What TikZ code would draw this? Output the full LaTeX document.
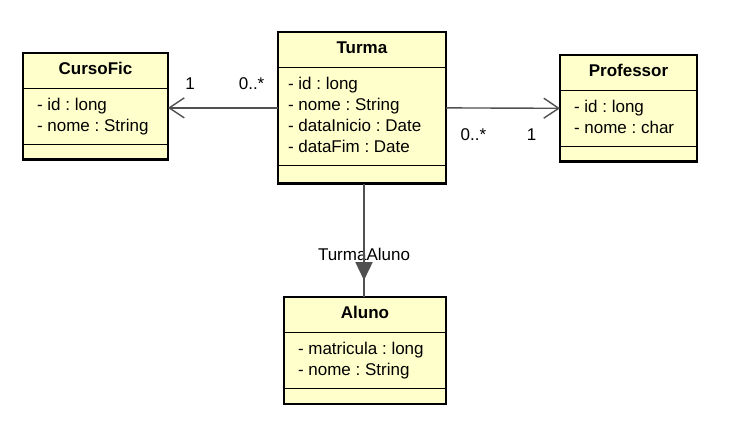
\documentclass[tikz,border=0pt]{standalone}
\usepackage{fontspec}
\setmainfont{Liberation Sans}
\usetikzlibrary{arrows.meta,positioning,shapes.multipart}
\definecolor{classfill}{RGB}{255,255,204}
\definecolor{linkgray}{RGB}{80,80,80}
\newcommand{\classfont}{\fontsize{8.5}{10.5}\selectfont\frenchspacing}

\begin{document}
\begin{tikzpicture}
[x=0.5pt, y=-0.5pt, font=\classfont,
umlclass/.style={rectangle split, rectangle split parts=3,
  rectangle split part align={center,left,left},
  draw=black, line width=0.6pt, fill=classfill, align=left,
  inner xsep=7pt, inner ysep=3.3pt, outer sep=0pt, anchor=north west},
assoc/.style={draw=linkgray, line width=0.7pt},
mult/.style={inner sep=0pt}
]
  \useasboundingbox (0,0) rectangle (738,426);

  \node[umlclass, minimum width=72.5pt] (curso) at (23,53)
    {\strut\textbf{CursoFic}
     \nodepart{second}\strut- id : long\\- nome : String\strut
     \nodepart{third}\rule{0pt}{0.2pt}};
  \node[umlclass, minimum width=84pt, inner xsep=5pt] (turma) at (278,32)
    {\strut\textbf{Turma}
     \nodepart{second}\strut- id : long\\- nome : String\\- dataInicio : Date\\- dataFim : Date\strut
     \nodepart{third}\rule{0pt}{1.8pt}};
  \node[umlclass, minimum width=68.5pt] (prof) at (560,55)
    {\strut\textbf{Professor}
     \nodepart{second}\strut- id : long\\- nome : char\strut
     \nodepart{third}\rule{0pt}{0.2pt}};
  \node[umlclass, minimum width=81pt] (aluno) at (284,297)
    {\strut\textbf{Aluno}
     \nodepart{second}\strut- matricula : long\\- nome : String\strut
     \nodepart{third}\rule{0pt}{0.4pt}};

  % heavier outer frame
  \foreach \c in {curso,turma,prof,aluno}
    \draw[line width=1.3pt] (\c.north west) rectangle (\c.south east);

  \path (turma.west) edge[assoc, -{Straight Barb[length=7.5pt,width=10pt]}]
          node[mult, pos=0.24, above=9pt] {0..*}
          node[mult, pos=0.8, above=9pt] {1} (turma.west -| curso.east)
        (turma.east) edge[assoc, -{Straight Barb[length=7.5pt,width=10pt]}]
          node[mult, pos=0.24, below=10pt] {0..*}
          node[mult, pos=0.75, below=10pt] {1} (prof.west)
        ([xshift=1pt]turma.south) edge[assoc]
          node[pos=0.62] {TurmaAluno}
          coordinate[pos=0.852] (dir) ([xshift=1pt]turma.south |- aluno.north);
  \path ([xshift=1pt]turma.south) edge[assoc, -{Triangle[length=9pt,width=8.5pt]}] (dir);
\end{tikzpicture}
\end{document}
